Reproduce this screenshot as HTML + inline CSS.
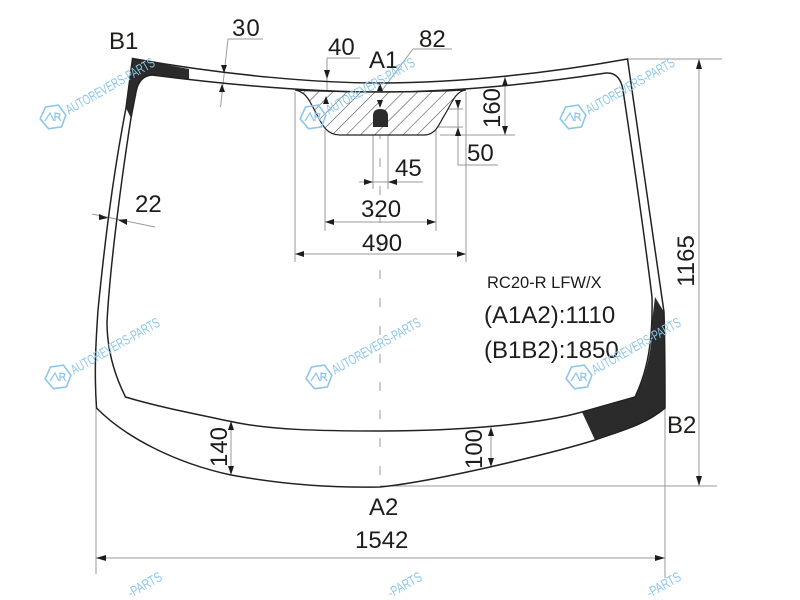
<!DOCTYPE html>
<html><head><meta charset="utf-8"><style>
html,body{margin:0;padding:0;background:#fff;width:800px;height:600px;overflow:hidden}
svg{display:block}
text{font-family:"Liberation Sans",sans-serif;fill:#1d1d1b}
.d{font-size:24px}
.g{stroke:#9a9a9a;stroke-width:1;fill:none}
.k{stroke:#222;stroke-width:1.5;fill:none}
.w{font-size:14px;fill:#8cc6ea;stroke:none}
</style></head><body>
<svg width="800" height="600" viewBox="0 0 800 600" xmlns="http://www.w3.org/2000/svg">
<defs>
<pattern id="h" width="10" height="10" patternUnits="userSpaceOnUse" patternTransform="rotate(45)"><rect width="10" height="10" fill="#fff"/><line x1="0" y1="0" x2="0" y2="10" stroke="#444" stroke-width="1.1"/></pattern>
<g id="wm">
<path d="M-13,0 L-6,-11 L7,-11 L13,0 L7,11 L-6,11 Z" transform="rotate(-8)" fill="none" stroke="#8cc6ea" stroke-width="1.6"/>
<path d="M-8,4 L-3,-4 L1,4 M2,4 L2,-4 L7,-3 L6,0 L2,0 M5,0 L8,4" fill="none" stroke="#8cc6ea" stroke-width="1.2"/>
<text class="w" x="15" y="6" transform="rotate(-29.6)" textLength="100" lengthAdjust="spacingAndGlyphs">AUTOREVERS-PARTS</text>
</g>
</defs>

<!-- dimension lines under glass -->
<path class="g" d="M380,130V490" stroke-dasharray="9,19"/>
<path class="g" d="M228,39H263M228,39L220.500,107"/>
<path class="g" d="M327,58H360M327,58V105"/>
<path class="g" d="M413,49H452M413,49L380,93"/>
<path class="g" d="M505,77V135M440,135H515"/>
<path class="g" d="M385,109H463M385,127H463M458,100V165H498"/>
<path class="g" d="M373,127V189M388,127V189M359,182H423"/>
<path class="g" d="M325,130V231M436,130V231M325,222H436"/>
<path class="g" d="M295,92V262M466,92V262M295,254H466"/>
<path class="g" d="M92,214L155,227"/>
<path class="g" d="M628,59H722M699,59V486M380,486H717"/>
<path class="g" d="M96,408V574M665,408V578M96,558H665"/>
<path class="g" d="M231,421V475M491,427V467"/>

<!-- hatched zone -->
<path d="M295,90 C306,92 309,100 315,111 C321,122 325,135 340,135 H424 C436,135 439,124 444,116 C451,105 455,91 466,90 C420,92.500 340,92.500 295,90 Z" fill="url(#h)" stroke="#222" stroke-width="1.2"/>
<path d="M373,127V116Q373,109 380,109Q388,109 388,116V127Z" fill="#2b2b2b"/>

<!-- black frit -->
<path d="M132.500,58.500 L189,69 L189,79 L152,75 Q139,76 136,92 L131,118 L126,108 Z" fill="#2b2b2b"/>
<path d="M655,297 L664,312 C665,345 665,380 665,408 C645,425 620,431 595,440 L582,412 L635,397 C647,375 653,345 652,322 Z" fill="#2b2b2b"/>

<!-- glass outlines -->
<path class="k" d="M132.500,58.500 C230,76 320,83 380,83 C460,83 550,73 627.500,59 L664,312 C665,345 665,380 665,408 C645,425 620,431 595,440 C560,451 520,460 490,467 C450,476 410,484 380,487 C330,488 280,484 231,475 C175,463 125,437 96.500,408 C94,370 96,340 98,310 C104,250 112,180 126,108 Z"/>
<path class="k" d="M152,75 C230,85 310,92 380,92 C460,92 540,83 606,73 Q620,72 623,90 C632,150 645,240 652,297 C653,340 648,370 635,397 L582,412 C540,424 460,431 380,431 C320,431 270,430 231,421.500 C190,413 155,406 125.500,397 C112,370 107,345 107,322 C110,265 122,175 131,118 L136,92 Q139,76 152,75 Z"/>

<!-- arrowheads -->
<g fill="#1d1d1b">
<path d="M224,73l-3,-8h6z M222,84l-3,8h6z"/>
<path d="M327,79l-3,-9h6z M326,96l-3,8h6z"/>
<path d="M380,83l-3,8h6z M380,108l-3,-8h6z"/>
<path d="M505,77l-3,9h6z M505,135l-3,-9h6z"/>
<path d="M458,109l-3,-9h6z M458,127l-3,9h6z"/>
<path d="M373,182l-9,-3v6z M388,182l9,-3v6z"/>
<path d="M325,222l9,-3v6z M436,222l-9,-3v6z"/>
<path d="M295,254l9,-3v6z M466,254l-9,-3v6z"/>
<path d="M108,218l-9,-4v6z M118,220l9,-1v6z"/>
<path d="M699,59l-3,10h6z M699,486l-3,-10h6z"/>
<path d="M96,558l10,-3v6z M665,558l-10,-3v6z"/>
<path d="M231,421l-3,9h6z M231,475l-3,-9h6z"/>
<path d="M491,427l-3,9h6z M491,467l-3,-9h6z"/>
</g>

<!-- labels -->
<text class="d" x="109" y="49">B1</text>
<text class="d" x="232" y="36" letter-spacing="1">30</text>
<text class="d" x="328" y="55">40</text>
<text class="d" x="369" y="68">A1</text>
<text class="d" x="419" y="47">82</text>
<text class="d" x="467" y="161">50</text>
<text class="d" x="395" y="176">45</text>
<text class="d" x="361" y="217">320</text>
<text class="d" x="362" y="251">490</text>
<text class="d" x="135" y="212">22</text>
<text class="d" x="369" y="515">A2</text>
<text class="d" x="667" y="433">B2</text>
<text class="d" x="355" y="548">1542</text>
<text class="d" transform="translate(500,108) rotate(-90)" text-anchor="middle">160</text>
<text class="d" transform="translate(694,261) rotate(-90)" text-anchor="middle">1165</text>
<text class="d" transform="translate(227,447) rotate(-90)" text-anchor="middle">140</text>
<text class="d" transform="translate(482,449) rotate(-90)" text-anchor="middle">100</text>
<text x="487" y="288" font-size="16.500">RC20-R LFW/X</text>
<text x="484" y="323" font-size="24">(A1A2):1110</text>
<text x="484" y="358" font-size="24">(B1B2):1850</text>

<!-- watermarks -->
<use href="#wm" x="53" y="117"/>
<use href="#wm" x="313" y="117"/>
<use href="#wm" x="573" y="117"/>
<use href="#wm" x="58" y="377"/>
<use href="#wm" x="319" y="377"/>
<use href="#wm" x="579" y="377"/>
<text class="w" transform="translate(131,598) rotate(-29.600)" textLength="37" lengthAdjust="spacingAndGlyphs">-PARTS</text>
<text class="w" transform="translate(391,598) rotate(-29.600)" textLength="37" lengthAdjust="spacingAndGlyphs">-PARTS</text>
<text class="w" transform="translate(650,598) rotate(-29.600)" textLength="37" lengthAdjust="spacingAndGlyphs">-PARTS</text>
</svg>
</body></html>
